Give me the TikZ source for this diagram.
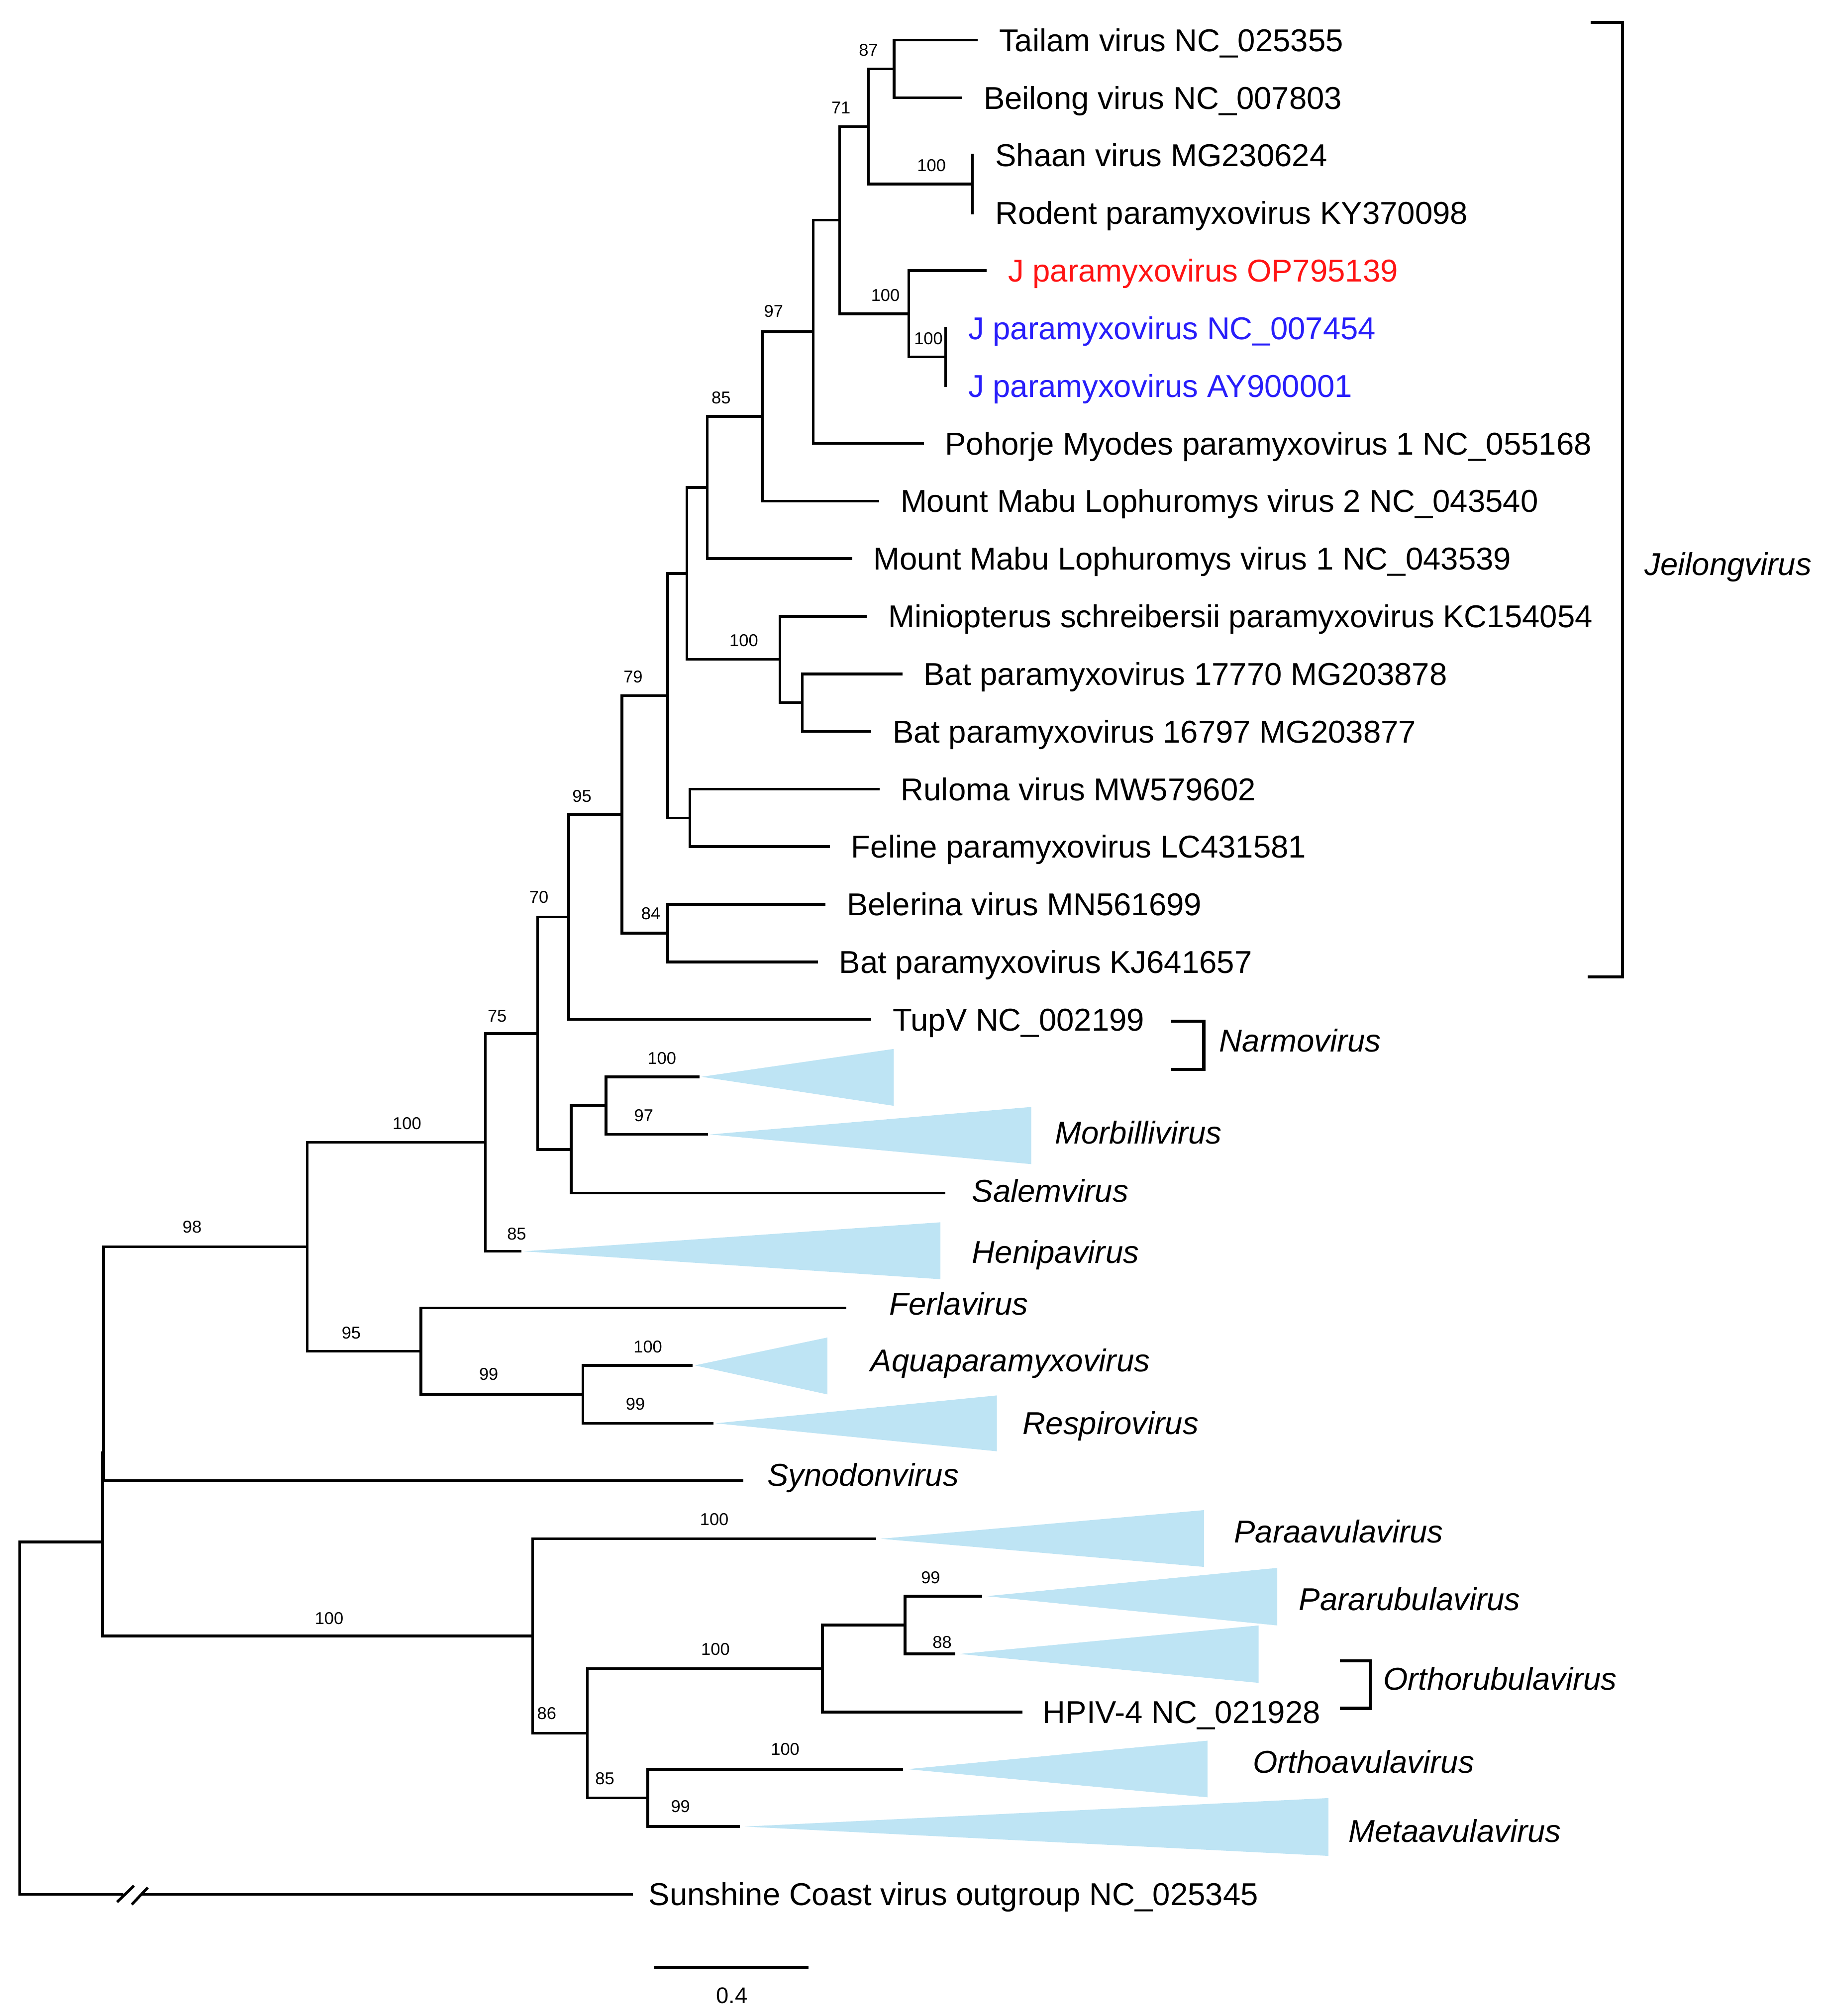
\documentclass[tikz,border=0pt]{standalone}
\usepackage{fontspec}
\setmainfont{Liberation Sans}
\definecolor{cladefill}{RGB}{190,228,244}
\definecolor{jred}{RGB}{255,20,20}
\definecolor{jblue}{RGB}{40,30,250}
\begin{document}
\begin{tikzpicture}[x=0.1mm,y=-0.1mm,
  br/.style={line width=0.6pt, line cap=rect},
  bk/.style={line width=0.7pt},
  clade/.style={fill=cladefill},
  leaf/.style={anchor=west, inner sep=0pt, text height=5pt, text depth=0pt, font=\fontsize{7}{8}\selectfont},
  genus/.style={leaf, font=\fontsize{7}{8}\selectfont\itshape},
  bs/.style={inner sep=0pt, text height=2.7pt, text depth=0pt, font=\fontsize{3.8}{4}\selectfont},
  scl/.style={inner sep=0pt, text height=3.6pt, text depth=0pt, font=\fontsize{5}{6}\selectfont}]
\useasboundingbox (0,0) rectangle (1419.8,1569.7);

% ---------- tips ----------
\coordinate (t0) at (760,31.2);
\coordinate (t1) at (748,76.1);
\coordinate (t2) at (757,120.9);
\coordinate (t3) at (757,165.8);
\coordinate (t4) at (767,210.6);
\coordinate (t5) at (736,255.5);
\coordinate (t6) at (736,300.4);
\coordinate (t7) at (718,345.2);
\coordinate (t8) at (683.3,390.1);
\coordinate (t9) at (662.2,434.9);
\coordinate (t10) at (673.7,479.8);
\coordinate (t11) at (701.3,524.7);
\coordinate (t12) at (677.1,569.5);
\coordinate (t13) at (683.6,614.4);
\coordinate (t14) at (644.9,659.2);
\coordinate (t15) at (641.5,704.1);
\coordinate (t16) at (635.6,749.0);
\coordinate (t17) at (677.1,793.8);
\coordinate (tM1) at (543.5,838.4);
\coordinate (tM2) at (550,883.3);
\coordinate (tSalem) at (734.8,928.9);
\coordinate (tHeni) at (405,974.3);
\coordinate (tFerla) at (657.6,1018.3);
\coordinate (tAqua) at (538,1063.1);
\coordinate (tResp) at (554.3,1108.2);
\coordinate (tSyn) at (577.5,1152.8);
\coordinate (tParaav) at (680.9,1198.1);
\coordinate (tParar) at (763.3,1242.8);
\coordinate (tOrthor) at (742.5,1287.8);
\coordinate (tHPIV) at (795,1333);
\coordinate (tOrthoav) at (701.7,1377.5);
\coordinate (tMeta) at (575,1422.2);
\coordinate (tSun) at (491.7,1474.9);
\coordinate (brkL) at (95,1474.9);
\coordinate (brkR) at (111,1474.9);

% ---------- internal nodes ----------
\coordinate (n87) at (696,53.65);
\coordinate (nSR) at (757,143.35);
\coordinate (n71) at (676,98.5);
\coordinate (nJJ) at (736,277.95);
\coordinate (nJ) at (707.4,244.3);
\coordinate (nQ) at (653.6,171.4);
\coordinate (nP) at (633,258.3);
\coordinate (n97) at (593.6,324.2);
\coordinate (n85) at (550.5,379.55);
\coordinate (nBat) at (624.5,547.1);
\coordinate (nMin) at (607,513.45);
\coordinate (nX) at (534.6,446.5);
\coordinate (nRF) at (537,636.8);
\coordinate (n79) at (519.7,541.65);
\coordinate (n84) at (519.7,726.55);
\coordinate (n95j) at (484.1,634.1);
\coordinate (n70) at (442.6,713.95);
\coordinate (nMorb) at (471.7,860.85);
\coordinate (nMS) at (444.6,895.0);
\coordinate (n75) at (418.5,804.7);
\coordinate (n100a) at (377.7,889.5);
\coordinate (n99) at (453.8,1085.65);
\coordinate (n95) at (327.7,1052.0);
\coordinate (n98) at (239.1,970.8);
\coordinate (nB) at (80.6,1131);
\coordinate (n9988) at (704.5,1265.3);
\coordinate (n100r) at (640.2,1299.1);
\coordinate (n85b) at (504.3,1399.85);
\coordinate (n86) at (457.3,1349.5);
\coordinate (n100b) at (414.7,1273.8);
\coordinate (nA) at (79.7,1200.6);
\coordinate (nR) at (15.4,1200.6);

% ---------- collapsed clades ----------
\fill[clade] (546,838.4) -- (695.7,816.7) -- (695.7,861.0) -- cycle;
\fill[clade] (552.7,883.3) -- (802.7,861.9) -- (802.7,906.4) -- cycle;
\fill[clade] (407.6,974.3) -- (732,951.7) -- (732,996.0) -- cycle;
\fill[clade] (540.8,1063.1) -- (644,1041.4) -- (644,1085.7) -- cycle;
\fill[clade] (557,1108.2) -- (776,1086.5) -- (776,1130) -- cycle;
\fill[clade] (685.4,1198.1) -- (937.2,1175.8) -- (937.2,1220) -- cycle;
\fill[clade] (767.8,1242.8) -- (994.2,1220.8) -- (994.2,1265.6) -- cycle;
\fill[clade] (747,1287.8) -- (979.7,1265.6) -- (979.7,1310.3) -- cycle;
\fill[clade] (706.3,1377.5) -- (939.9,1355.3) -- (939.9,1399.4) -- cycle;
\fill[clade] (579.5,1422.2) -- (1034,1400) -- (1034,1445) -- cycle;

% ---------- branches ----------
\draw[br] (nR) |- (nA);
\draw[br] (nR) |- (brkL);
\draw[br] (brkR) -- (tSun);
\draw[br] (91.9,1480.2) -- (103.5,1469);
\draw[br] (103.3,1482.1) -- (114.3,1470.5);
\draw[br] (nA) |- (nB);
\draw[br] (nA) |- (n100b);
\draw[br] (nB) |- (n98);
\draw[br] (nB) |- (tSyn);
\draw[br] (n98) |- (n100a);
\draw[br] (n98) |- (n95);
\draw[br] (n100a) |- (n75);
\draw[br] (n100a) |- (tHeni);
\draw[br] (n75) |- (n70);
\draw[br] (n75) |- (nMS);
\draw[br] (nMS) |- (nMorb);
\draw[br] (nMS) |- (tSalem);
\draw[br] (nMorb) |- (tM1);
\draw[br] (nMorb) |- (tM2);
\draw[br] (n70) |- (n95j);
\draw[br] (n70) |- (t17);
\draw[br] (n95j) |- (n79);
\draw[br] (n95j) |- (n84);
\draw[br] (n84) |- (t15);
\draw[br] (n84) |- (t16);
\draw[br] (n79) |- (nX);
\draw[br] (n79) |- (nRF);
\draw[br] (nRF) |- (t13);
\draw[br] (nRF) |- (t14);
\draw[br] (nX) |- (n85);
\draw[br] (nX) |- (nMin);
\draw[br] (nMin) |- (t10);
\draw[br] (nMin) |- (nBat);
\draw[br] (nBat) |- (t11);
\draw[br] (nBat) |- (t12);
\draw[br] (n85) |- (n97);
\draw[br] (n85) |- (t9);
\draw[br] (n97) |- (nP);
\draw[br] (n97) |- (t8);
\draw[br] (nP) |- (nQ);
\draw[br] (nP) |- (t7);
\draw[br] (nQ) |- (n71);
\draw[br] (nQ) |- (nJ);
\draw[br] (n71) |- (n87);
\draw[br] (n71) |- (nSR);
\draw[br] (n87) |- (t0);
\draw[br] (n87) |- (t1);
\draw[br] (nSR) |- (t2);
\draw[br] (nSR) |- (t3);
\draw[br] (nJ) |- (t4);
\draw[br] (nJ) |- (nJJ);
\draw[br] (nJJ) |- (t5);
\draw[br] (nJJ) |- (t6);
\draw[br] (n95) |- (tFerla);
\draw[br] (n95) |- (n99);
\draw[br] (n99) |- (tAqua);
\draw[br] (n99) |- (tResp);
\draw[br] (n100b) |- (tParaav);
\draw[br] (n100b) |- (n86);
\draw[br] (n86) |- (n100r);
\draw[br] (n86) |- (n85b);
\draw[br] (n100r) |- (n9988);
\draw[br] (n100r) |- (tHPIV);
\draw[br] (n9988) |- (tParar);
\draw[br] (n9988) |- (tOrthor);
\draw[br] (n85b) |- (tOrthoav);
\draw[br] (n85b) |- (tMeta);

% ---------- tip labels ----------
\node[leaf] (l0) at ([xshift=1.7mm]t0) {Tailam virus NC\_025355};
\node[leaf] (l1) at ([xshift=1.7mm]t1) {Beilong virus NC\_007803};
\node[leaf] (l2) at ([xshift=1.7mm]t2) {Shaan virus MG230624};
\node[leaf] (l3) at ([xshift=1.7mm]t3) {Rodent paramyxovirus KY370098};
\node[leaf, text=jred] (l4) at ([xshift=1.7mm]t4) {J paramyxovirus OP795139};
\node[leaf, text=jblue] (l5) at ([xshift=1.7mm]t5) {J paramyxovirus NC\_007454};
\node[leaf, text=jblue] (l6) at ([xshift=1.7mm]t6) {J paramyxovirus AY900001};
\node[leaf] (l7) at ([xshift=1.7mm]t7) {Pohorje Myodes paramyxovirus 1 NC\_055168};
\node[leaf] (l8) at ([xshift=1.7mm]t8) {Mount Mabu Lophuromys virus 2 NC\_043540};
\node[leaf] (l9) at ([xshift=1.7mm]t9) {Mount Mabu Lophuromys virus 1 NC\_043539};
\node[leaf] (l10) at ([xshift=1.7mm]t10) {Miniopterus schreibersii paramyxovirus KC154054};
\node[leaf] (l11) at ([xshift=1.7mm]t11) {Bat paramyxovirus 17770 MG203878};
\node[leaf] (l12) at ([xshift=1.7mm]t12) {Bat paramyxovirus 16797 MG203877};
\node[leaf] (l13) at ([xshift=1.7mm]t13) {Ruloma virus MW579602};
\node[leaf] (l14) at ([xshift=1.7mm]t14) {Feline paramyxovirus LC431581};
\node[leaf] (l15) at ([xshift=1.7mm]t15) {Belerina virus MN561699};
\node[leaf] (l16) at ([xshift=1.7mm]t16) {Bat paramyxovirus KJ641657};
\node[leaf] (l17) at ([xshift=1.7mm]t17) {TupV NC\_002199};
\node[leaf] (lHPIV) at ([xshift=1.6mm]tHPIV) {HPIV-4 NC\_021928};
\node[leaf] (lSun) at ([xshift=1.25mm]tSun) {Sunshine Coast virus outgroup NC\_025345};

% ---------- genus labels ----------
\node[genus] (gNarmo) at (948.5,810.1) {Narmovirus};
\node[genus] (gMorb) at (820.5,881.9) {Morbillivirus};
\node[genus] (gSalem) at (756,927.1) {Salemvirus};
\node[genus] (gHeni) at (756,974.6) {Henipavirus};
\node[genus] (gFerla) at (691.5,1015) {Ferlavirus};
\node[genus] (gAqua) at (677,1059.3) {Aquaparamyxovirus};
\node[genus] (gResp) at (795.5,1108) {Respirovirus};
\node[genus] (gSyn) at (596.5,1148.2) {Synodonvirus};
\node[genus] (gParaav) at (960,1192.3) {Paraavulavirus};
\node[genus] (gParar) at (1010.5,1245) {Pararubulavirus};
\node[genus] (gOrthor) at (1076,1306.9) {Orthorubulavirus};
\node[genus] (gOrthoav) at (974.5,1371.8) {Orthoavulavirus};
\node[genus] (gMeta) at (1049,1425.6) {Metaavulavirus};
\node[genus] (gJeil) at (1279.5,439) {Jeilongvirus};

% ---------- brackets ----------
\draw[bk] (1238,17.4) -- (1263,17.4) -- (1263,760.7) -- (1236,760.7);
\draw[bk] (911.8,795) -- (937,795) -- (937,832.6) -- (911.8,832.6);
\draw[bk] (1043,1293.2) -- (1066.6,1293.2) -- (1066.6,1330.2) -- (1043,1330.2);

% ---------- bootstrap values ----------
\node[bs] (b87) at (676,39) {87};
\node[bs] (b71) at (654.6,83.8) {71};
\node[bs] (b100sr) at (725.1,128.6) {100};
\node[bs] (b100j) at (689.2,229.6) {100};
\node[bs] (b100jj) at (722.7,263.4) {100};
\node[bs] (b97) at (602.2,242.3) {97};
\node[bs] (b85) at (561.3,309.4) {85};
\node[bs] (b100m) at (579,498.5) {100};
\node[bs] (b79) at (492.8,526.8) {79};
\node[bs] (b95j) at (453,619.9) {95};
\node[bs] (b84) at (506.6,711.3) {84};
\node[bs] (b70) at (419.5,698.5) {70};
\node[bs] (b75) at (387,791) {75};
\node[bs] (b100mo) at (515.2,824) {100};
\node[bs] (b97mo) at (501.1,868.4) {97};
\node[bs] (b100a) at (316.8,874.5) {100};
\node[bs] (b85h) at (402.2,960.7) {85};
\node[bs] (b98) at (149.5,955.3) {98};
\node[bs] (b95) at (273.4,1037.5) {95};
\node[bs] (b100aq) at (504.3,1048.6) {100};
\node[bs] (b99) at (380.4,1069.9) {99};
\node[bs] (b99r) at (494.6,1093) {99};
\node[bs] (b100b) at (256.2,1259.8) {100};
\node[bs] (b100pa) at (556,1183) {100};
\node[bs] (b99pr) at (724.4,1228) {99};
\node[bs] (b88) at (733.4,1278.4) {88};
\node[bs] (b100r) at (556.9,1284.1) {100};
\node[bs] (b86) at (425.6,1333.9) {86};
\node[bs] (b85b) at (470.8,1384.6) {85};
\node[bs] (b100oa) at (611.2,1361.8) {100};
\node[bs] (b99me) at (529.7,1406.5) {99};

% ---------- scale bar ----------
\coordinate (sbL) at (509.3,1531.8);
\coordinate (sbR) at (629.4,1531.8);
\draw[br, line cap=butt] (sbL) -- (sbR);
\node[scl] (sbT) at (569.6,1553.3) {0.4};
\end{tikzpicture}
\end{document}
